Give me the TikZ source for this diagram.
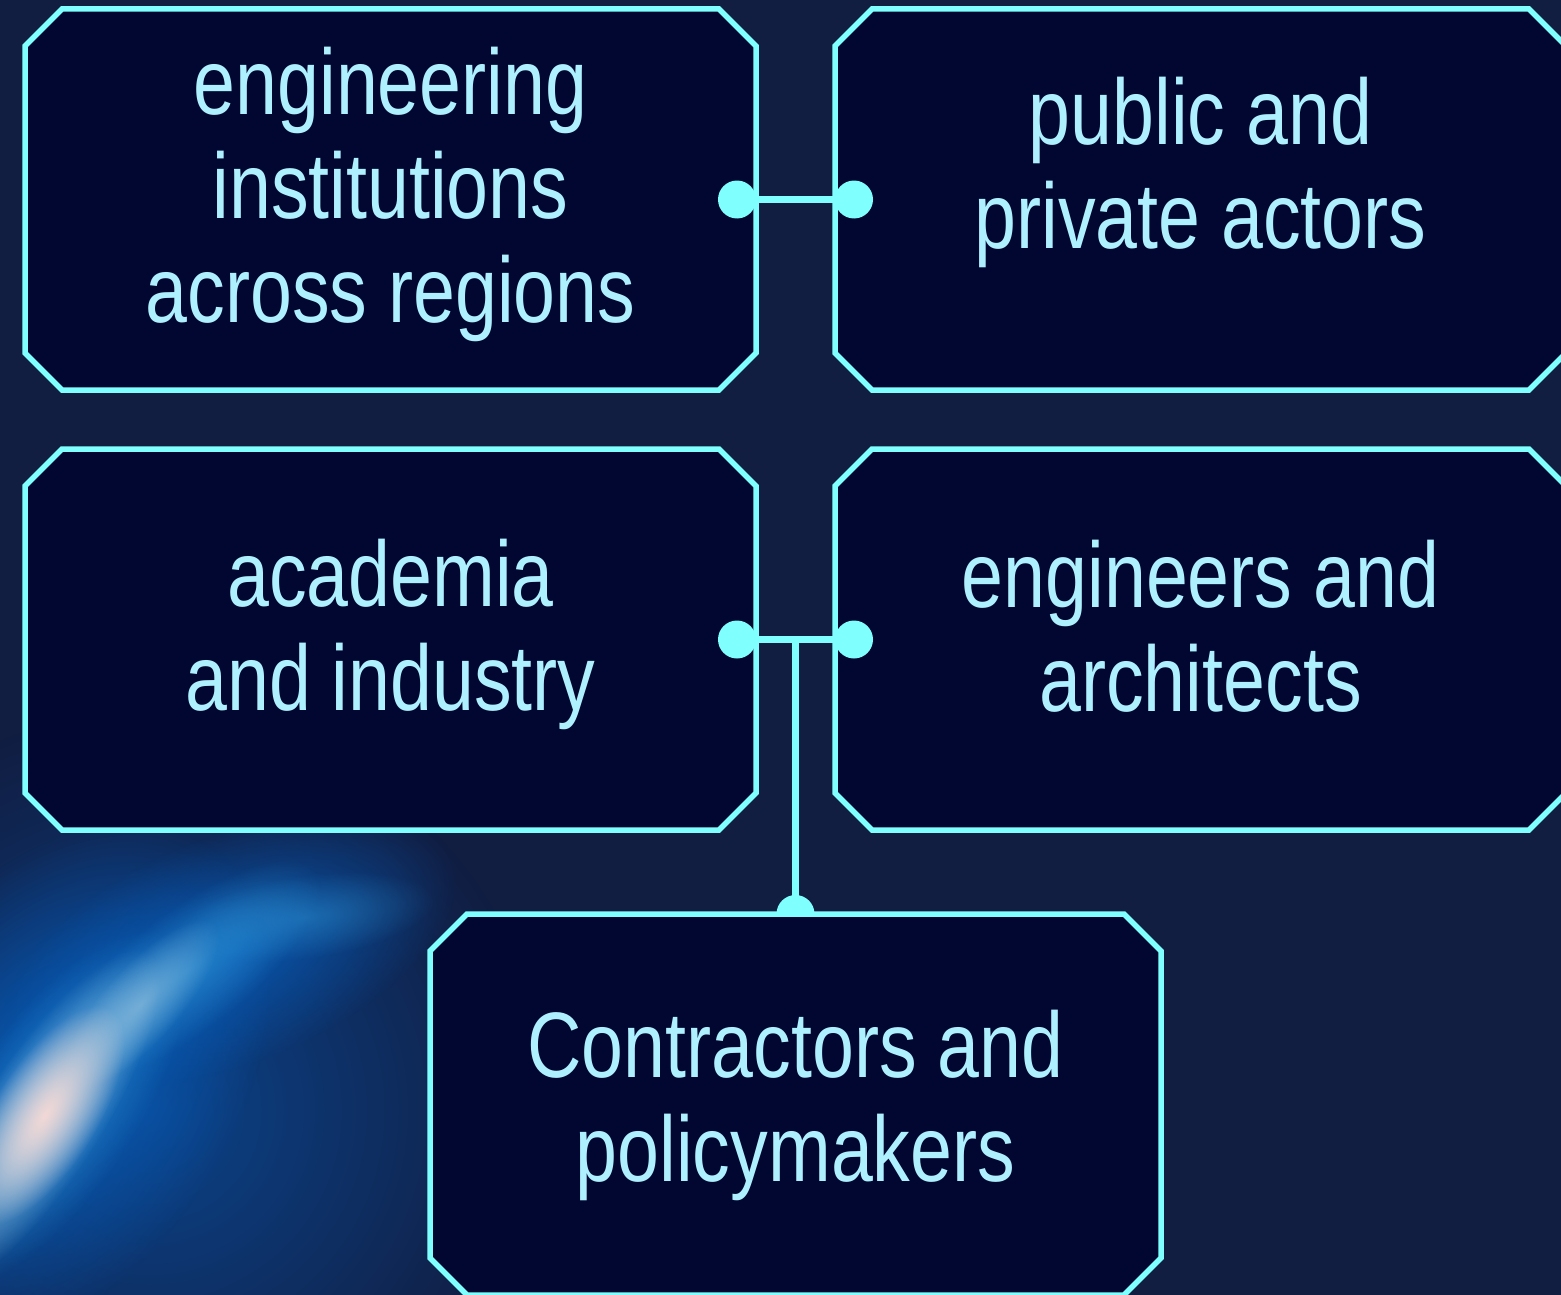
\documentclass[tikz,border=0pt]{standalone}
\usepackage{fontspec}
\setmainfont{Liberation Sans}[FakeStretch=0.81]
\usetikzlibrary{calc,fadings}
\definecolor{bgnavy}{RGB}{17,29,65}
\definecolor{boxfill}{RGB}{1,7,48}
\definecolor{edgecyan}{RGB}{128,255,255}
\definecolor{txtcyan}{RGB}{175,240,255}
\definecolor{glowblue}{RGB}{6,100,200}
\definecolor{glowmid}{RGB}{45,145,210}
\definecolor{glowlight}{RGB}{160,200,225}
\definecolor{glowpink}{RGB}{242,216,214}
\tikzfading[name=softglow, inner color=transparent!0, outer color=transparent!100]
\newcommand{\glowell}[6]{%
  \begin{scope}[transform canvas={shift={(#1,#2)}, rotate=#3}]
    \fill[#6, path fading=softglow] (0,0) ellipse[x radius=#4, y radius=#5];
  \end{scope}}
\begin{document}
\begin{tikzpicture}[x=1pt,y=-1pt,
  boxframe/.style={minimum width=731pt, minimum height=381pt, inner sep=0pt, outer sep=0pt},
  chamferbox/.style={draw=edgecyan, fill=boxfill, line width=5.5pt, line join=miter},
  boxtext/.style={text=txtcyan, align=center, font=\fontsize{93}{104}\selectfont, inner sep=0pt},
  linkline/.style={draw=edgecyan, line width=7pt},
  enddot/.style={fill=edgecyan}]
% background
\fill[bgnavy] (0,0) rectangle (1561,1295);
\useasboundingbox (0,0) rectangle (1561,1295);
\begin{scope}
\clip (0,0) rectangle (1561,1295);
% broad haze
\fill[glowblue, path fading=softglow, opacity=0.55] (150,1110) circle[radius=400pt];
\glowell{40}{1090}{55}{300}{190}{glowblue, opacity=0.85}
\glowell{230}{950}{22}{240}{115}{glowblue, opacity=0.75}
\glowell{50}{1110}{56}{210}{85}{glowmid, opacity=0.85}
\glowell{185}{972}{38}{165}{60}{glowmid, opacity=0.75}
\glowell{305}{917}{8}{130}{42}{glowmid, opacity=0.5}
\glowell{40}{1120}{57}{200}{60}{glowlight, opacity=0.9}
\glowell{140}{1005}{48}{110}{38}{glowlight, opacity=0.6}
\glowell{45}{1115}{58}{125}{52}{glowpink, opacity=1}
\end{scope}
% boxes
\node[boxframe] (b1) at (390.5,199.5) {};
\node[boxframe] (b2) at (1200.5,199.5) {};
\node[boxframe] (b3) at (390.5,639.5) {};
\node[boxframe] (b4) at (1200.5,639.5) {};
\node[boxframe] (b5) at (795.5,1104.5) {};
\foreach \b in {b1,b2,b3,b4}
  \draw[chamferbox] ($(\b.north west)+(37,0)$) -- ($(\b.north east)+(-37,0)$) -- ($(\b.north east)+(0,37)$) -- ($(\b.south east)+(0,-37)$) -- ($(\b.south east)+(-37,0)$) -- ($(\b.south west)+(37,0)$) -- ($(\b.south west)+(0,-37)$) -- ($(\b.north west)+(0,37)$) -- cycle;
% connectors
\draw[linkline] ([xshift=-19pt]b1.east) -- ([xshift=19pt]b2.west);
\fill[enddot] ([xshift=-19pt]b1.east) circle[radius=19pt];
\fill[enddot] ([xshift=19pt]b2.west) circle[radius=19pt];
\draw[linkline] ([xshift=-19pt]b3.east) -- ([xshift=19pt]b4.west);
\fill[enddot] ([xshift=-19pt]b3.east) circle[radius=19pt];
\fill[enddot] ([xshift=19pt]b4.west) circle[radius=19pt];
\coordinate (mid) at ($(b3.east)!0.5!(b4.west)$);
\draw[linkline] (mid) -- (b5.north);
\fill[enddot] (b5.north) circle[radius=19pt];
\draw[chamferbox] ($(b5.north west)+(37,0)$) -- ($(b5.north east)+(-37,0)$) -- ($(b5.north east)+(0,37)$) -- ($(b5.south east)+(0,-37)$) -- ($(b5.south east)+(-37,0)$) -- ($(b5.south west)+(37,0)$) -- ($(b5.south west)+(0,-37)$) -- ($(b5.north west)+(0,37)$) -- cycle;
% texts
\node[boxtext] (t1) at ($(b1.center)+(0,-5.5)$) {engineering\\institutions\\across regions};
\node[boxtext] (t2) at ($(b2.center)+(0,-27.5)$) {public and\\private actors};
\node[boxtext] (t3) at ($(b3.center)+(0,-5.5)$) {academia\\and industry};
\node[boxtext] (t4) at ($(b4.center)+(0,-13.5)$) {engineers and\\architects};
\node[boxtext] (t5) at ($(b5.center)+(0,0.5)$) {Contractors and\\policymakers};
\end{tikzpicture}
\end{document}
